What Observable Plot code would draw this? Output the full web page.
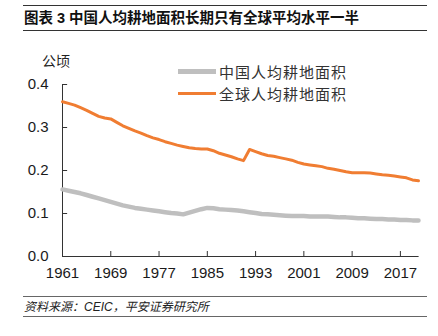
<!DOCTYPE html>
<html>
<head>
<meta charset="utf-8">
<script src="https://cdn.jsdelivr.net/npm/d3@7"></script>
<script src="https://cdn.jsdelivr.net/npm/@observablehq/plot@0.6"></script>
<style>
  html, body { margin: 0; padding: 0; background: #fff; }
  body { font-family: "Liberation Sans", Arial, "Noto Sans CJK SC", sans-serif; }
  #wrap { position: relative; width: 438px; height: 336px; overflow: hidden; }
  #wrap svg { position: absolute; left: 0; top: 0; }
  .hline { position: absolute; left: 23px; width: 404px; height: 0; }
  .abs { position: absolute; white-space: nowrap; }
</style>
</head>
<body>
<div id="wrap"></div>
<script>
const years = [1961,1962,1963,1964,1965,1966,1967,1968,1969,1970,
  1971,1972,1973,1974,1975,1976,1977,1978,1979,1980,
  1981,1982,1983,1984,1985,1986,1987,1988,1989,1990,
  1991,1992,1993,1994,1995,1996,1997,1998,1999,2000,
  2001,2002,2003,2004,2005,2006,2007,2008,2009,2010,
  2011,2012,2013,2014,2015,2016,2017,2018,2019,2020];

const chinaValues = [0.156,0.153,0.150,0.147,0.143,0.139,0.135,0.131,0.127,0.123,
  0.119,0.116,0.113,0.111,0.109,0.107,0.105,0.103,0.101,0.100,
  0.098,0.102,0.106,0.110,0.113,0.112,0.110,0.109,0.108,0.107,
  0.105,0.103,0.101,0.099,0.098,0.097,0.096,0.095,0.094,0.094,
  0.094,0.093,0.093,0.093,0.093,0.092,0.091,0.091,0.090,0.089,
  0.089,0.088,0.087,0.087,0.086,0.086,0.085,0.085,0.084,0.084];

const worldValues = [0.360,0.356,0.352,0.346,0.340,0.333,0.326,0.322,0.320,0.312,
  0.304,0.298,0.292,0.287,0.281,0.276,0.272,0.267,0.263,0.259,
  0.256,0.253,0.251,0.250,0.250,0.246,0.240,0.236,0.232,0.227,
  0.223,0.249,0.244,0.239,0.235,0.233,0.230,0.227,0.224,0.219,
  0.215,0.213,0.211,0.209,0.205,0.203,0.200,0.197,0.195,0.195,
  0.195,0.194,0.192,0.190,0.189,0.187,0.185,0.183,0.178,0.176];

const xTicks = [1961,1969,1977,1985,1993,2001,2009,2017];
const yTicks = [0,0.1,0.2,0.3,0.4];
const seriesNames = ["中国人均耕地面积", "全球人均耕地面积"];
const unitLabel = "公顷";
const titleText = "图表 3 中国人均耕地面积长期只有全球平均水平一半";
const sourceText = "资料来源：CEIC，平安证券研究所";

const colors = ["#BFBFBF", "#F07D32"];
const widths = [4.5, 3];

const china = years.map((y, i) => ({year: y, value: chinaValues[i]}));
const world = years.map((y, i) => ({year: y, value: worldValues[i]}));

const plot = Plot.plot({
  width: 438,
  height: 336,
  marginTop: 84,
  marginBottom: 80,
  marginLeft: 62,
  marginRight: 20,
  style: {fontFamily: '"Liberation Sans", Arial, sans-serif', fontSize: "14px", color: "#1a1a1a", background: "transparent"},
  x: {domain: [1961, 2020]},
  y: {domain: [0, 0.4]},
  marks: [
    Plot.axisY({ticks: yTicks, tickFormat: d3.format(".1f"), tickSize: 0, tickPadding: 14, label: null, fontSize: 15}),
    Plot.axisX({ticks: xTicks, tickFormat: d => String(d), tickSize: 0, tickPadding: 11, label: null, fontSize: 15}),
    Plot.ruleY(yTicks.filter(d => d > 0), {y: d => d, x1: 1961, x2: 1961.85, stroke: "#333", strokeWidth: 1}),
    Plot.ruleX(xTicks.filter(d => d > 1961), {x: d => d, y1: 0, y2: 0.0116, stroke: "#333", strokeWidth: 1}),
    Plot.ruleX([1961], {y1: 0, y2: 0.4, stroke: "#333", strokeWidth: 1}),
    Plot.ruleY([0], {x1: 1961, x2: 2020.1, stroke: "#333", strokeWidth: 1}),
    Plot.line(china, {x: "year", y: "value", stroke: colors[0], strokeWidth: widths[0], curve: "linear"}),
    Plot.line(world, {x: "year", y: "value", stroke: colors[1], strokeWidth: widths[1], curve: "linear"})
  ]
});

const wrap = document.getElementById("wrap");
wrap.appendChild(plot);

function add(html) { wrap.insertAdjacentHTML("beforeend", html); }

// title band
add(`<div class="hline" style="top:5px;border-top:1px solid #333"></div>`);
add(`<div class="abs" style="left:24px;top:9px;font-size:14.5px;font-weight:bold;color:#111;font-family:'Liberation Sans',Arial,'Noto Sans CJK SC',sans-serif;line-height:18px">${titleText}</div>`);
add(`<div class="hline" style="top:30px;border-top:1px solid #333"></div>`);

// unit label
add(`<div class="abs" style="left:42px;top:52px;font-size:14px;color:#222;font-family:'Noto Sans CJK SC',sans-serif;line-height:16px">${unitLabel}</div>`);

// legend
seriesNames.forEach((name, i) => {
  const cy = i === 0 ? 71.5 : 93.5;
  add(`<div class="abs" style="left:178px;top:${cy - widths[i] / 2}px;width:38px;height:${widths[i]}px;background:${colors[i]}"></div>`);
  add(`<div class="abs" style="left:219px;top:${cy - 10}px;font-size:15px;letter-spacing:1px;color:#333;font-family:'Noto Sans CJK SC',sans-serif;line-height:20px">${name}</div>`);
});

// source band
add(`<div class="hline" style="top:296px;border-top:1px solid #666"></div>`);
add(`<div class="abs" style="left:24px;top:299px;font-size:12px;font-style:italic;color:#222;font-family:'Liberation Sans',Arial,'Noto Sans CJK SC',sans-serif;line-height:16px">${sourceText}</div>`);
add(`<div class="hline" style="top:316px;border-top:1px solid #666"></div>`);
</script>
</body>
</html>
